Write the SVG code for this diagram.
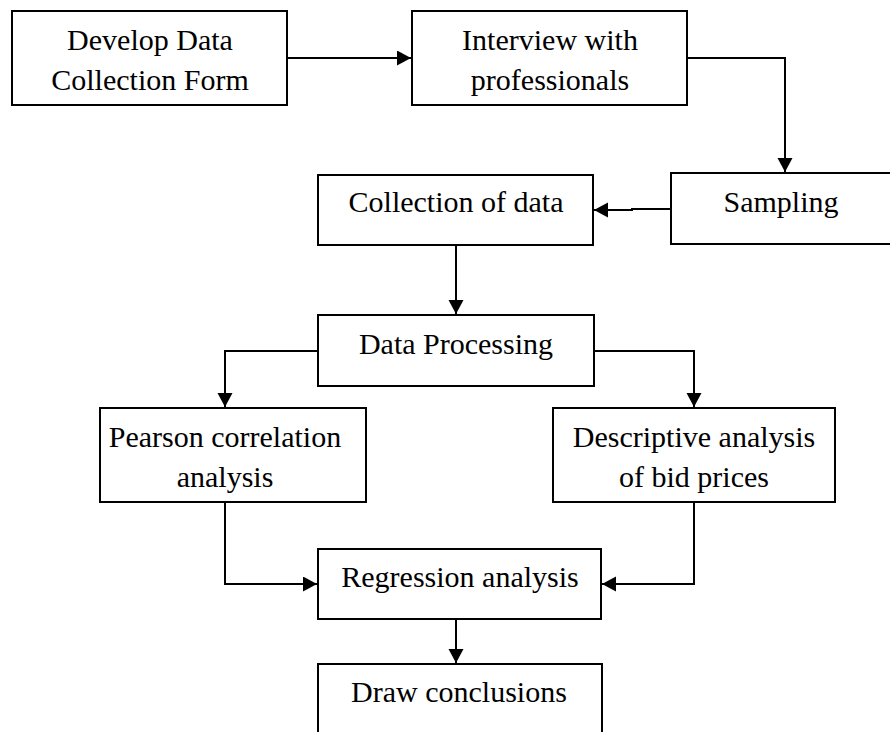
<svg xmlns="http://www.w3.org/2000/svg" width="890" height="732" viewBox="0 0 890 732">
<style>
.box{fill:#fff;stroke:#000;stroke-width:2}
.t{font-family:"Liberation Serif","Times New Roman",serif;font-size:30px;fill:#000;text-anchor:middle}
.c{fill:none;stroke:#000;stroke-width:2}
</style>
<defs>
<marker id="ah" markerUnits="userSpaceOnUse" markerWidth="15" markerHeight="16" refX="14" refY="7.5" orient="auto">
<path d="M0,0 L14,7.5 L0,15 z" fill="#000"/>
</marker>
</defs>
<rect width="890" height="732" fill="#fff"/>
<g id="connectors">
<path class="c" d="M287,58 L411,58" marker-end="url(#ah)"/>
<path class="c" d="M687,58 L785,58 L785,172" marker-end="url(#ah)"/>
<path class="c" d="M671,209 L632,209 L632,210 L594,210" marker-end="url(#ah)"/>
<path class="c" d="M456,245 L456,314" marker-end="url(#ah)"/>
<path class="c" d="M318,351 L225,351 L225,407" marker-end="url(#ah)"/>
<path class="c" d="M594,351 L694,351 L694,407" marker-end="url(#ah)"/>
<path class="c" d="M225,502 L225,584 L317,584" marker-end="url(#ah)"/>
<path class="c" d="M694,502 L694,584 L602,584" marker-end="url(#ah)"/>
<path class="c" d="M456,619 L456,663" marker-end="url(#ah)"/>
</g>
<g id="develop">
<rect class="box" x="12" y="11" width="275" height="94"/>
<text class="t" x="150" y="50">Develop Data</text>
<text class="t" x="150" y="90">Collection Form</text>
</g>
<g id="interview">
<rect class="box" x="412" y="11" width="275" height="94"/>
<text class="t" x="550" y="50">Interview with</text>
<text class="t" x="550" y="90">professionals</text>
</g>
<g id="sampling">
<rect class="box" x="671" y="173" width="240" height="71"/>
<text class="t" x="781" y="212">Sampling</text>
</g>
<g id="collection">
<rect class="box" x="318" y="175" width="275" height="70"/>
<text class="t" x="456" y="212">Collection of data</text>
</g>
<g id="processing">
<rect class="box" x="318" y="315" width="276" height="71"/>
<text class="t" x="456" y="354">Data Processing</text>
</g>
<g id="pearson">
<rect class="box" x="100" y="408" width="266" height="94"/>
<text class="t" x="225" y="447">Pearson correlation</text>
<text class="t" x="225" y="487">analysis</text>
</g>
<g id="descriptive">
<rect class="box" x="553" y="408" width="282" height="94"/>
<text class="t" x="694" y="447">Descriptive analysis</text>
<text class="t" x="694" y="487">of bid prices</text>
</g>
<g id="regression">
<rect class="box" x="318" y="549" width="283" height="70"/>
<text class="t" x="460" y="587">Regression analysis</text>
</g>
<g id="conclusions">
<rect class="box" x="318" y="664" width="284" height="90"/>
<text class="t" x="459" y="702">Draw conclusions</text>
</g>
</svg>
